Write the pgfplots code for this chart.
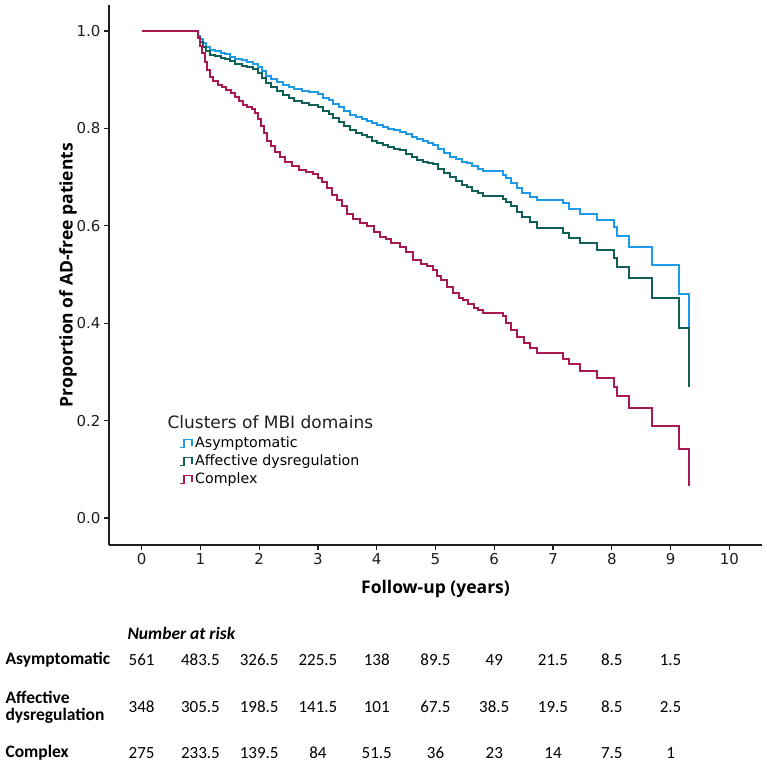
\documentclass[border=0pt]{standalone}
\usepackage{fontspec}
\setmainfont{DejaVu Sans}
\newfontfamily\tabfont{Carlito}
\newfontfamily\labfont{Open Sans}
\usepackage{pgfplots}
\pgfplotsset{compat=1.18}
\definecolor{cblue}{RGB}{30,155,232}
\definecolor{cgreen}{RGB}{16,96,88}
\definecolor{cmag}{RGB}{168,24,82}
\definecolor{axgray}{RGB}{30,30,30}
\tikzset{rnum/.style={font=\tabfont\fontsize{17bp}{20bp}\selectfont, anchor=center}}
\begin{document}
\begin{tikzpicture}
\path[use as bounding box] (0,0) rectangle (767bp,765bp);
\begin{axis}[
  at={(109bp,220bp)}, anchor=south west,
  scale only axis, width=653bp, height=540bp,
  xmin=-0.556, xmax=10.556, ymin=-0.0554, ymax=1.0534,
  axis x line*=bottom, axis y line*=left,
  axis line style={line width=1.3bp, color=axgray, -},
  xtick={0,1,2,3,4,5,6,7,8,9,10}, ytick={0,0.2,0.4,0.6,0.8,1.0},
  tick align=outside, major tick length=5bp,
  tick style={line width=1.1bp, color=axgray},
  /pgf/number format/assume math mode=true,
  ticklabel style={font=\fontsize{15bp}{18bp}\selectfont, text=axgray},
  yticklabel style={/pgf/number format/.cd, fixed, fixed zerofill, precision=1},
  xlabel={Follow-up (years)}, ylabel={Proportion of AD-free patients},
  label style={font=\labfont\bfseries\fontsize{17.5bp}{20bp}\selectfont},
  xlabel style={at={(axis description cs:0.5,0)}, anchor=center, yshift=-44bp},
  ylabel style={at={(axis description cs:0,0.5)}, anchor=center, yshift=41bp},
  clip=false,
  legend style={at={(axis cs:0.64,0.168)}, anchor=north west, draw=none, fill=none,
    font=\fontsize{14.2bp}{16bp}\selectfont, row sep=4bp, inner sep=0pt,
    nodes={inner sep=0pt, text height=11bp, text depth=3bp}},
  legend cell align=left,
  legend image code/.code={\draw[#1, line width=1.5bp] (0bp,-4bp) -- (4bp,-4bp) -- (4bp,4bp) -- (12bp,4bp) -- (12bp,-3bp); \path (14bp,0bp);},
]
\addplot[const plot, cblue, line width=2bp] coordinates {
(0,1.0) (0.92,1.0) (0.95,0.99) (0.99,0.983) (1.04,0.975) (1.1,0.967) (1.16,0.961) (1.25,0.958) (1.35,0.955) (1.42,0.952) (1.5,0.947) (1.59,0.943) (1.7,0.940) (1.8,0.937) (1.9,0.933) (1.98,0.926) (2.05,0.917) (2.12,0.908) (2.2,0.901) (2.3,0.895) (2.4,0.89) (2.5,0.884) (2.6,0.880) (2.72,0.876) (2.85,0.874) (3.0,0.871) (3.09,0.863) (3.18,0.858) (3.26,0.851) (3.35,0.843) (3.45,0.836) (3.55,0.828) (3.65,0.823) (3.75,0.819) (3.83,0.816) (3.92,0.811) (4.0,0.806) (4.11,0.802) (4.2,0.798) (4.3,0.796) (4.4,0.793) (4.5,0.788) (4.6,0.782) (4.68,0.778) (4.78,0.774) (4.88,0.770) (4.96,0.766) (5.05,0.758) (5.15,0.75) (5.25,0.742) (5.35,0.737) (5.45,0.732) (5.53,0.729) (5.62,0.722) (5.72,0.716) (5.81,0.712) (6.15,0.705) (6.2,0.698) (6.28,0.688) (6.38,0.677) (6.48,0.667) (6.6,0.660) (6.72,0.653) (7.17,0.646) (7.27,0.634) (7.46,0.624) (7.74,0.612) (8.04,0.598) (8.08,0.579) (8.29,0.557) (8.69,0.519) (9.15,0.461) (9.31,0.393)
};
\addlegendentry{Asymptomatic}
\addplot[const plot, cgreen, line width=2bp] coordinates {
(0,1) (0.92,1) (0.95,0.988) (0.99,0.978) (1.04,0.968) (1.1,0.958) (1.16,0.951) (1.25,0.948) (1.35,0.945) (1.42,0.942) (1.5,0.938) (1.59,0.933) (1.7,0.929) (1.8,0.926) (1.9,0.922) (1.98,0.913) (2.05,0.903) (2.12,0.893) (2.2,0.885) (2.3,0.876) (2.4,0.868) (2.5,0.862) (2.6,0.857) (2.72,0.852) (2.85,0.848) (3.0,0.844) (3.09,0.836) (3.18,0.829) (3.26,0.822) (3.35,0.813) (3.45,0.804) (3.55,0.797) (3.65,0.791) (3.75,0.786) (3.83,0.782) (3.92,0.775) (4.0,0.770) (4.11,0.765) (4.2,0.761) (4.3,0.758) (4.4,0.755) (4.5,0.748) (4.6,0.741) (4.68,0.735) (4.78,0.732) (4.88,0.729) (4.96,0.726) (5.05,0.716) (5.15,0.708) (5.25,0.700) (5.35,0.692) (5.45,0.684) (5.53,0.679) (5.62,0.672) (5.72,0.667) (5.81,0.662) (6.15,0.655) (6.2,0.648) (6.28,0.64) (6.38,0.628) (6.48,0.619) (6.6,0.608) (6.72,0.595) (7.17,0.585) (7.27,0.574) (7.46,0.564) (7.74,0.55) (8.04,0.533) (8.08,0.516) (8.29,0.492) (8.69,0.451) (9.15,0.391) (9.31,0.27)
};
\addlegendentry{Affective dysregulation}
\addplot[const plot, cmag, line width=2bp] coordinates {
(0,1) (0.92,1) (0.95,0.985) (0.99,0.97) (1.03,0.955) (1.07,0.937) (1.12,0.92) (1.16,0.906) (1.22,0.898) (1.3,0.889) (1.37,0.884) (1.44,0.878) (1.52,0.872) (1.59,0.865) (1.66,0.857) (1.73,0.848) (1.8,0.843) (1.87,0.839) (1.93,0.832) (1.98,0.82) (2.03,0.805) (2.08,0.79) (2.14,0.775) (2.2,0.763) (2.27,0.752) (2.35,0.741) (2.44,0.732) (2.55,0.722) (2.67,0.714) (2.8,0.71) (2.92,0.706) (3.0,0.698) (3.07,0.69) (3.15,0.677) (3.24,0.663) (3.32,0.652) (3.41,0.641) (3.5,0.625) (3.6,0.613) (3.72,0.606) (3.83,0.6) (3.95,0.588) (4.05,0.578) (4.15,0.572) (4.25,0.565) (4.4,0.557) (4.5,0.547) (4.62,0.53) (4.75,0.522) (4.85,0.517) (4.96,0.51) (5.03,0.497) (5.1,0.488) (5.2,0.475) (5.3,0.462) (5.4,0.452) (5.47,0.447) (5.55,0.44) (5.65,0.432) (5.72,0.428) (5.81,0.421) (6.15,0.415) (6.2,0.4) (6.28,0.386) (6.38,0.372) (6.5,0.36) (6.6,0.35) (6.72,0.338) (7.17,0.326) (7.27,0.316) (7.46,0.302) (7.74,0.287) (8.04,0.27) (8.08,0.251) (8.29,0.225) (8.69,0.189) (9.15,0.141) (9.31,0.066)
};
\addlegendentry{Complex}
\node[anchor=west, font=\fontsize{17bp}{20bp}\selectfont, text=axgray] at (axis cs:0.38,0.197) {Clusters of MBI domains};
\node[anchor=west, font=\tabfont\bfseries\itshape\fontsize{17.5bp}{20bp}\selectfont] at (axis cs:-0.301,-0.236) {Number at risk};
\node[anchor=west, font=\tabfont\bfseries\fontsize{17.5bp}{20bp}\selectfont] at (axis cs:-2.377,-0.2916) {Asymptomatic};
\node[anchor=west, align=left, font=\tabfont\bfseries\fontsize{17.5bp}{17bp}\selectfont] at (axis cs:-2.377,-0.388) {Affective\\dysregulation};
\node[anchor=west, font=\tabfont\bfseries\fontsize{17.5bp}{20bp}\selectfont] at (axis cs:-2.377,-0.4825) {Complex};
\node[rnum] at (axis cs:0,-0.2916) {561};
\node[rnum] at (axis cs:1,-0.2916) {483.5};
\node[rnum] at (axis cs:2,-0.2916) {326.5};
\node[rnum] at (axis cs:3,-0.2916) {225.5};
\node[rnum] at (axis cs:4,-0.2916) {138};
\node[rnum] at (axis cs:5,-0.2916) {89.5};
\node[rnum] at (axis cs:6,-0.2916) {49};
\node[rnum] at (axis cs:7,-0.2916) {21.5};
\node[rnum] at (axis cs:8,-0.2916) {8.5};
\node[rnum] at (axis cs:9,-0.2916) {1.5};
\node[rnum] at (axis cs:0,-0.388) {348};
\node[rnum] at (axis cs:1,-0.388) {305.5};
\node[rnum] at (axis cs:2,-0.388) {198.5};
\node[rnum] at (axis cs:3,-0.388) {141.5};
\node[rnum] at (axis cs:4,-0.388) {101};
\node[rnum] at (axis cs:5,-0.388) {67.5};
\node[rnum] at (axis cs:6,-0.388) {38.5};
\node[rnum] at (axis cs:7,-0.388) {19.5};
\node[rnum] at (axis cs:8,-0.388) {8.5};
\node[rnum] at (axis cs:9,-0.388) {2.5};
\node[rnum] at (axis cs:0,-0.4825) {275};
\node[rnum] at (axis cs:1,-0.4825) {233.5};
\node[rnum] at (axis cs:2,-0.4825) {139.5};
\node[rnum] at (axis cs:3,-0.4825) {84};
\node[rnum] at (axis cs:4,-0.4825) {51.5};
\node[rnum] at (axis cs:5,-0.4825) {36};
\node[rnum] at (axis cs:6,-0.4825) {23};
\node[rnum] at (axis cs:7,-0.4825) {14};
\node[rnum] at (axis cs:8,-0.4825) {7.5};
\node[rnum] at (axis cs:9,-0.4825) {1};
\end{axis}
\end{tikzpicture}
\end{document}
